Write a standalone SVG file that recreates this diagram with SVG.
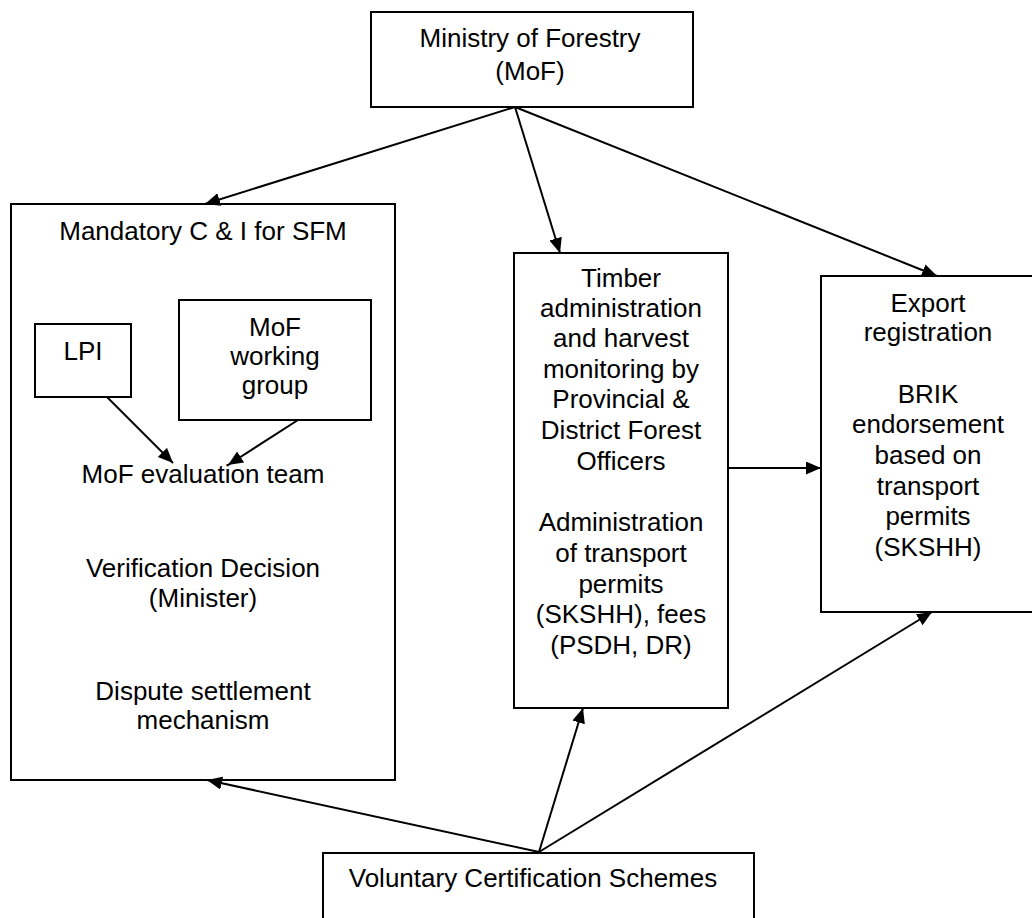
<svg xmlns="http://www.w3.org/2000/svg" width="1032" height="918" viewBox="0 0 1032 918">
<style>
.box{fill:#fff;stroke:#000;stroke-width:2}
.t{font-family:"Liberation Sans",Arial,sans-serif;font-size:26px;fill:#000;text-anchor:middle}
.c{stroke:#000;stroke-width:2;fill:none;marker-end:url(#ah)}
</style>
<defs>
<marker id="ah" markerUnits="userSpaceOnUse" markerWidth="16" markerHeight="14" refX="15" refY="6.5" orient="auto">
<path d="M0,0 L15,6.5 L0,13 z" fill="#000"/>
</marker>
</defs>
<rect width="1032" height="918" fill="#fff"/>
<g id="mof">
<rect class="box" x="371" y="12" width="322" height="95"/>
<text class="t" x="530" y="47">Ministry of Forestry</text>
<text class="t" x="530" y="80">(MoF)</text>
</g>
<g id="mandatory">
<rect class="box" x="11" y="204" width="384" height="576"/>
<text class="t" x="203" y="240">Mandatory C &amp; I for SFM</text>
<text class="t" x="203" y="483">MoF evaluation team</text>
<text class="t" x="203" y="577">Verification Decision</text>
<text class="t" x="203" y="607">(Minister)</text>
<text class="t" x="203" y="700">Dispute settlement</text>
<text class="t" x="203" y="729">mechanism</text>
</g>
<g id="lpi">
<rect class="box" x="35" y="324" width="96" height="73"/>
<text class="t" x="83" y="360">LPI</text>
</g>
<g id="working-group">
<rect class="box" x="179" y="300" width="192" height="120"/>
<text class="t" x="275" y="336">MoF</text>
<text class="t" x="275" y="365">working</text>
<text class="t" x="275" y="394">group</text>
</g>
<g id="timber">
<rect class="box" x="514" y="253" width="214" height="455"/>
<text class="t" x="621" y="287">Timber</text>
<text class="t" x="621" y="317">administration</text>
<text class="t" x="621" y="347">and harvest</text>
<text class="t" x="621" y="378">monitoring by</text>
<text class="t" x="621" y="408">Provincial &amp;</text>
<text class="t" x="621" y="439">District Forest</text>
<text class="t" x="621" y="470">Officers</text>
<text class="t" x="621" y="531">Administration</text>
<text class="t" x="621" y="562">of transport</text>
<text class="t" x="621" y="593">permits</text>
<text class="t" x="621" y="623">(SKSHH), fees</text>
<text class="t" x="621" y="654">(PSDH, DR)</text>
</g>
<g id="export">
<rect class="box" x="821" y="276" width="220" height="336"/>
<text class="t" x="928" y="312">Export</text>
<text class="t" x="928" y="341">registration</text>
<text class="t" x="928" y="403">BRIK</text>
<text class="t" x="928" y="433">endorsement</text>
<text class="t" x="928" y="464">based on</text>
<text class="t" x="928" y="495">transport</text>
<text class="t" x="928" y="525">permits</text>
<text class="t" x="928" y="556">(SKSHH)</text>
</g>
<g id="voluntary">
<rect class="box" x="323" y="853" width="431" height="80"/>
<text class="t" x="533" y="887">Voluntary Certification Schemes</text>
</g>
<g id="connectors">
<line class="c" x1="515" y1="107" x2="205" y2="204"/>
<line class="c" x1="515" y1="107" x2="560" y2="253"/>
<line class="c" x1="515" y1="107" x2="937" y2="276"/>
<line class="c" x1="107" y1="397" x2="173" y2="463"/>
<line class="c" x1="298" y1="420" x2="228" y2="465"/>
<line class="c" x1="728" y1="468" x2="821" y2="468"/>
<line class="c" x1="539" y1="852" x2="207" y2="780"/>
<line class="c" x1="539" y1="852" x2="583" y2="708"/>
<line class="c" x1="539" y1="852" x2="932" y2="612"/>
</g>
</svg>
